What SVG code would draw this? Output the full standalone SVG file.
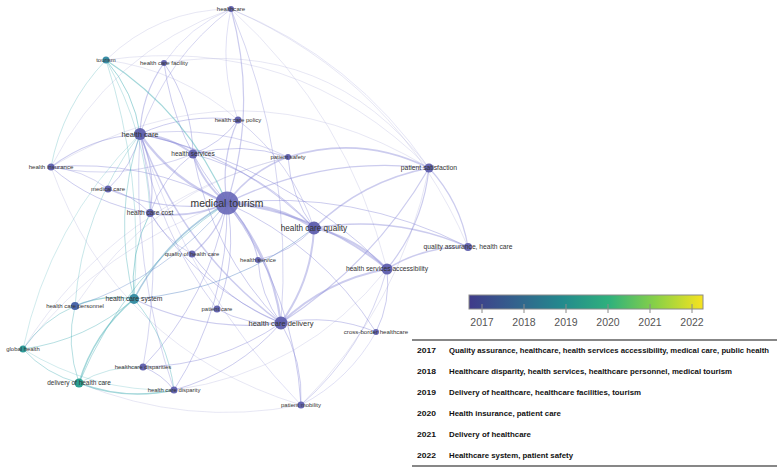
<svg xmlns="http://www.w3.org/2000/svg" width="782" height="473" viewBox="0 0 782 473">
<style>
.e{fill:none;stroke:#8585d6;stroke-opacity:.42;stroke-linecap:round}
.t{fill:none;stroke:#48b0b6;stroke-opacity:.5;stroke-linecap:round}
.f{fill:none;stroke:#b4b4de;stroke-opacity:.55;stroke-width:.6}
.np{fill:#5a5aaa;fill-opacity:.92}
.lbl{font-family:"Liberation Sans",Arial,sans-serif;fill:#333;text-anchor:middle}
.tick{font-family:"Liberation Sans",Arial,sans-serif;fill:#555;font-size:10.5px;text-anchor:middle}
.yr{font-family:"Liberation Sans",Arial,sans-serif;font-weight:bold;font-size:8px;fill:#111}
.row{font-family:"Liberation Sans",Arial,sans-serif;font-weight:bold;font-size:7.2px;fill:#111}
</style>
<defs>
<linearGradient id="vir" x1="0" y1="0" x2="1" y2="0">
<stop offset="0" stop-color="#3f3a8a"/>
<stop offset="0.2" stop-color="#33628d"/>
<stop offset="0.4" stop-color="#238a8d"/>
<stop offset="0.6" stop-color="#2fb17c"/>
<stop offset="0.8" stop-color="#8ad146"/>
<stop offset="1" stop-color="#f7e31f"/>
</linearGradient>
</defs>
<rect width="782" height="473" fill="#fff"/>
<g id="edges">
<path class="f" d="M51 167Q240.3 54.1 429 168"/>
<path class="f" d="M164 63Q328 36 429 168"/>
<path class="f" d="M106 60Q181 70.2 238 120"/>
<path class="f" d="M231 9Q397.1 80.6 468 247"/>
<path class="f" d="M231 9Q348 115.6 387 269"/>
<path class="f" d="M51 167Q116.5 348.5 301 405"/>
<path class="f" d="M23 349Q117.1 200 288 157"/>
<path class="f" d="M231 9Q109.4 52 51 167"/>
<path class="f" d="M301 405Q400.6 305.7 429 168"/>
<path class="f" d="M174 390Q304.7 372.1 387 269"/>
<path class="f" d="M23 349Q103.1 245.4 227 203"/>
<path class="f" d="M79 383Q186.7 427.3 301 405"/>
<path class="f" d="M75 306Q151.7 188.9 288 157"/>
<path class="f" d="M106 60Q294.5 33.3 429 168"/>
<path class="f" d="M231 9Q158.3 9.5 106 60"/>
<path class="e" d="M227 203Q173.2 181.6 140 134" stroke-width="2.2"/>
<path class="e" d="M227 203Q202.7 183.6 193 154" stroke-width="2"/>
<path class="e" d="M227 203Q274.3 202.5 314 228" stroke-width="2.5"/>
<path class="e" d="M227 203Q272 254.9 281 323" stroke-width="2.2"/>
<path class="e" d="M227 203Q190 219.6 150 213" stroke-width="1.8"/>
<path class="e" d="M227 203Q250.6 170.9 288 157" stroke-width="1.5"/>
<path class="e" d="M227 203Q220 159.9 238 120" stroke-width="1.2"/>
<path class="e" d="M227 203Q174.5 142.5 164 63" stroke-width="1"/>
<path class="e" d="M227 203Q258.1 106.6 231 9" stroke-width="1.2"/>
<path class="e" d="M227 203Q322.8 155.2 429 168" stroke-width="1.2"/>
<path class="e" d="M227 203Q354.1 188.9 468 247" stroke-width="1"/>
<path class="e" d="M227 203Q316.9 212 387 269" stroke-width="1.8"/>
<path class="e" d="M227 203Q217.2 233.8 192 254" stroke-width="1.2"/>
<path class="e" d="M227 203Q251.1 226.9 258 260" stroke-width="1.2"/>
<path class="e" d="M227 203Q237.9 257.5 217 309" stroke-width="1"/>
<path class="e" d="M227 203Q165.4 213.9 108 189" stroke-width="1.2"/>
<path class="e" d="M227 203Q144.4 158.6 51 167" stroke-width="1"/>
<path class="e" d="M227 203Q294.3 292.9 301 405" stroke-width="1"/>
<path class="e" d="M227 203Q320.9 245.2 376 332" stroke-width="1"/>
<path class="e" d="M227 203Q209.6 297.6 143 367" stroke-width="1"/>
<path class="e" d="M227 203Q228.6 304.5 174 390" stroke-width="1"/>
<path class="e" d="M314 228Q356.7 237.6 387 269" stroke-width="2"/>
<path class="e" d="M314 228Q311.8 280.5 281 323" stroke-width="2"/>
<path class="e" d="M314 228Q362.5 180.8 429 168" stroke-width="1.5"/>
<path class="e" d="M314 228Q393.9 214.4 468 247" stroke-width="1.5"/>
<path class="e" d="M314 228Q290.4 196.4 288 157" stroke-width="1"/>
<path class="e" d="M314 228Q241.1 154.9 140 134" stroke-width="1.2"/>
<path class="e" d="M314 228Q264.6 172.9 193 154" stroke-width="1"/>
<path class="e" d="M314 228Q292.2 162.6 238 120" stroke-width=".8"/>
<path class="e" d="M314 228Q290.8 252.4 258 260" stroke-width="1"/>
<path class="e" d="M281 323Q325.9 280.1 387 269" stroke-width="1.8"/>
<path class="e" d="M281 323Q260 295 258 260" stroke-width="1"/>
<path class="e" d="M281 323Q246.9 325.6 217 309" stroke-width="1"/>
<path class="e" d="M281 323Q303.3 361 301 405" stroke-width="1"/>
<path class="e" d="M281 323Q329.9 313.3 376 332" stroke-width="1"/>
<path class="e" d="M281 323Q182.2 249.7 140 134" stroke-width="1.5"/>
<path class="e" d="M281 323Q199 287.7 150 213" stroke-width="1"/>
<path class="e" d="M281 323Q226.2 301.9 192 254" stroke-width="1"/>
<path class="e" d="M281 323Q218.6 365.7 143 367" stroke-width="1"/>
<path class="e" d="M281 323Q237.6 372.6 174 390" stroke-width="1"/>
<path class="e" d="M281 323Q373.6 263.3 429 168" stroke-width="1.2"/>
<path class="e" d="M281 323Q211.7 251.7 193 154" stroke-width="1"/>
<path class="e" d="M288 157Q360.7 134.3 429 168" stroke-width="1.8"/>
<path class="e" d="M429 168Q423.2 224.8 387 269" stroke-width="1.2"/>
<path class="e" d="M429 168Q460.4 201.7 468 247" stroke-width="1.2"/>
<path class="e" d="M387 269Q424.2 245.9 468 247" stroke-width="1.5"/>
<path class="e" d="M387 269Q391 302.2 376 332" stroke-width="1"/>
<path class="e" d="M387 269Q283.8 164.5 140 134" stroke-width="1"/>
<path class="e" d="M387 269Q364.4 349.9 301 405" stroke-width=".8"/>
<path class="e" d="M140 134Q169.5 136 193 154" stroke-width="1.8"/>
<path class="e" d="M140 134Q141.4 94.9 164 63" stroke-width="1.2"/>
<path class="e" d="M140 134Q166.8 57.9 231 9" stroke-width=".8"/>
<path class="e" d="M140 134Q90.5 137.2 51 167" stroke-width="1.2"/>
<path class="e" d="M140 134Q132.3 166.3 108 189" stroke-width="1"/>
<path class="e" d="M140 134Q156.9 172 150 213" stroke-width="1.2"/>
<path class="e" d="M140 134Q186.9 112.3 238 120" stroke-width="1"/>
<path class="e" d="M164 63Q192.2 104.2 193 154" stroke-width="1"/>
<path class="e" d="M164 63Q189.4 26 231 9" stroke-width=".6"/>
<path class="e" d="M238 120Q220.6 143.8 193 154" stroke-width="1"/>
<path class="e" d="M238 120Q217.9 65.6 231 9" stroke-width=".6"/>
<path class="e" d="M231 9Q293.7 160 281 323" stroke-width=".8"/>
<path class="e" d="M231 9Q353.9 58.8 429 168" stroke-width=".5"/>
<path class="e" d="M51 167Q93.6 204.9 150 213" stroke-width="1"/>
<path class="e" d="M51 167Q82.8 169.5 108 189" stroke-width=".8"/>
<path class="e" d="M51 167Q124 181.8 193 154" stroke-width=".8"/>
<path class="e" d="M108 189Q132.6 194.7 150 213" stroke-width="1"/>
<path class="e" d="M150 213Q162.7 177 193 154" stroke-width="1"/>
<path class="e" d="M192 254Q164.9 239.8 150 213" stroke-width=".8"/>
<path class="e" d="M143 367Q161.9 373.9 174 390" stroke-width="1"/>
<path class="e" d="M143 367Q164.8 250.2 140 134" stroke-width=".8"/>
<path class="e" d="M174 390Q131.4 265.4 140 134" stroke-width=".8"/>
<path class="e" d="M288 157Q241 141.3 193 154" stroke-width="1"/>
<path class="e" d="M288 157Q217.5 123.3 140 134" stroke-width=".8"/>
<path class="e" d="M217 309Q157.5 230.7 140 134" stroke-width=".8"/>
<path class="e" d="M134 299Q203.9 333.1 281 323" stroke-width="1.2"/>
<path class="e" d="M301 405Q349.5 379.8 376 332" stroke-width=".6"/>
<path class="e" d="M301 405Q188 288.8 140 134" stroke-width=".6"/>
<path class="t" d="M106 60Q134.1 91.9 140 134" stroke-width="1"/>
<path class="t" d="M106 60Q188 113.4 227 203" stroke-width="1.2"/>
<path class="t" d="M106 60Q62.5 105.3 51 167" stroke-width=".6"/>
<path class="t" d="M106 60Q143.9 176.7 134 299" stroke-width=".6"/>
<path class="t" d="M106 60Q146.4 131.2 150 213" stroke-width=".6"/>
<path class="t" d="M23 349Q42.6 319.7 75 306" stroke-width=".8"/>
<path class="t" d="M23 349Q45.9 374.4 79 383" stroke-width=".8"/>
<path class="t" d="M23 349Q86 340.7 134 299" stroke-width=".8"/>
<path class="t" d="M23 349Q49.3 224 140 134" stroke-width=".5"/>
<path class="t" d="M79 383Q93.9 332.8 134 299" stroke-width="1.6"/>
<path class="t" d="M79 383Q125.5 400.8 174 390" stroke-width="1.5"/>
<path class="t" d="M79 383Q65.5 343.9 75 306" stroke-width=".8"/>
<path class="t" d="M79 383Q126 270.8 227 203" stroke-width=".8"/>
<path class="t" d="M79 383Q108.6 365.4 143 367" stroke-width=".6"/>
<path class="t" d="M134 299Q166.1 237 227 203" stroke-width="1.5" style="stroke:#5a9ac4"/>
<path class="t" d="M134 299Q103.5 293.7 75 306" stroke-width="1.2"/>
<path class="t" d="M134 299Q234.7 290.5 314 228" stroke-width="1" style="stroke:#6a94cc"/>
<path class="t" d="M134 299Q129.1 253.6 150 213" stroke-width="1"/>
<path class="t" d="M134 299Q112.3 215.6 140 134" stroke-width=".8"/>
<path class="t" d="M134 299Q167.7 338.5 174 390" stroke-width=".8"/>
<path class="t" d="M75 306Q166.5 277.3 227 203" stroke-width=".8" style="stroke:#6a8fcc"/>
<path class="t" d="M75 306Q81.7 210.3 140 134" stroke-width=".6"/>
<path class="t" d="M23 349Q92.4 392.2 174 390" stroke-width=".5"/>
</g>
<g id="n-healthcare"><circle class="np" cx="231" cy="9" r="3"/><text class="lbl" x="231" y="11.2" font-size="6.1">healthcare</text></g>
<g id="n-tourism"><circle cx="106" cy="60" r="3.5" fill="#3a8fa8"/><text class="lbl" x="106" y="62.2" font-size="6">tourism</text></g>
<g id="n-health-care-facility"><circle class="np" cx="164" cy="63" r="3"/><text class="lbl" x="164" y="65.2" font-size="6">health care facility</text></g>
<g id="n-health-care-policy"><circle class="np" cx="238" cy="120" r="3.5"/><text class="lbl" x="238" y="122.2" font-size="6">health care policy</text></g>
<g id="n-health-care"><circle class="np" cx="140" cy="134" r="6"/><text class="lbl" x="140" y="136.7" font-size="7.5">health care</text></g>
<g id="n-health-services"><circle class="np" cx="193" cy="154" r="4.5"/><text class="lbl" x="193" y="156.3" font-size="6.5">health services</text></g>
<g id="n-patient-safety"><circle class="np" cx="288" cy="157" r="3"/><text class="lbl" x="288" y="159.2" font-size="5.9">patient safety</text></g>
<g id="n-patient-satisfaction"><circle class="np" cx="429" cy="168" r="4.5"/><text class="lbl" x="429" y="170.4" font-size="6.8">patient satisfaction</text></g>
<g id="n-health-insurance"><circle class="np" cx="51" cy="167" r="3.5"/><text class="lbl" x="51" y="169.2" font-size="6.1">health insurance</text></g>
<g id="n-medical-care"><circle class="np" cx="108" cy="189" r="3.5"/><text class="lbl" x="108" y="191.2" font-size="6">medical care</text></g>
<g id="n-medical-tourism"><circle cx="227" cy="203" r="11.5" fill="#6868b8" fill-opacity=".9"/><text class="lbl" x="227" y="206.8" font-size="10.4">medical tourism</text></g>
<g id="n-health-care-cost"><circle class="np" cx="150" cy="213" r="4"/><text class="lbl" x="150" y="215.3" font-size="6.6">health care cost</text></g>
<g id="n-health-care-quality"><circle class="np" cx="314" cy="228" r="6.5"/><text class="lbl" x="314" y="231" font-size="8.2">health care quality</text></g>
<g id="n-quality-assurance"><circle class="np" cx="468" cy="247" r="4"/><text class="lbl" x="468" y="249.4" font-size="6.7">quality assurance, health care</text></g>
<g id="n-quality-of-health-care"><circle class="np" cx="192" cy="254" r="3.5"/><text class="lbl" x="192" y="256.2" font-size="5.9">quality of health care</text></g>
<g id="n-health-service"><circle class="np" cx="258" cy="260" r="3"/><text class="lbl" x="258" y="262.2" font-size="5.8">health service</text></g>
<g id="n-health-services-accessibility"><circle class="np" cx="387" cy="269" r="5.5"/><text class="lbl" x="387" y="271.4" font-size="6.7">health services accessibility</text></g>
<g id="n-health-care-system"><circle cx="134" cy="299" r="5" fill="#3a8fa5"/><text class="lbl" x="134" y="301.4" font-size="6.8">health care system</text></g>
<g id="n-health-care-personnel"><circle cx="75" cy="306" r="4" fill="#4a66aa"/><text class="lbl" x="75" y="308.2" font-size="6">health care personnel</text></g>
<g id="n-patient-care"><circle class="np" cx="217" cy="309" r="3.5"/><text class="lbl" x="217" y="311.2" font-size="5.9">patient care</text></g>
<g id="n-health-care-delivery"><circle class="np" cx="281" cy="323" r="6.5"/><text class="lbl" x="281" y="325.7" font-size="7.5">health care delivery</text></g>
<g id="n-cross-border-healthcare"><circle class="np" cx="376" cy="332" r="3"/><text class="lbl" x="376" y="334.2" font-size="6.1">cross-border healthcare</text></g>
<g id="n-global-health"><circle cx="23" cy="349" r="3.5" fill="#2e9a98"/><text class="lbl" x="23" y="351.2" font-size="5.9">global health</text></g>
<g id="n-healthcare-disparities"><circle class="np" cx="143" cy="367" r="3.5"/><text class="lbl" x="143" y="369.2" font-size="6">healthcare disparities</text></g>
<g id="n-delivery-of-health-care"><circle cx="79" cy="383" r="4.5" fill="#2aa092"/><text class="lbl" x="79" y="385.3" font-size="6.5">delivery of health care</text></g>
<g id="n-health-care-disparity"><circle class="np" cx="174" cy="390" r="3.5"/><text class="lbl" x="174" y="392.2" font-size="5.9">health care disparity</text></g>
<g id="n-patient-mobility"><circle class="np" cx="301" cy="405" r="3.5"/><text class="lbl" x="301" y="407.2" font-size="6">patient mobility</text></g>
<g id="legend">
<rect x="469" y="295" width="234" height="14" fill="url(#vir)" stroke="#8a8a8a" stroke-width="1"/>
<g stroke="#8a8a8a" stroke-width="1">
<line x1="482" y1="304" x2="482" y2="313"/>
<line x1="524" y1="304" x2="524" y2="313"/>
<line x1="566" y1="304" x2="566" y2="313"/>
<line x1="608" y1="304" x2="608" y2="313"/>
<line x1="650" y1="304" x2="650" y2="313"/>
<line x1="692" y1="304" x2="692" y2="313"/>
</g>
<text class="tick" x="482" y="326">2017</text>
<text class="tick" x="524" y="326">2018</text>
<text class="tick" x="566" y="326">2019</text>
<text class="tick" x="608" y="326">2020</text>
<text class="tick" x="650" y="326">2021</text>
<text class="tick" x="692" y="326">2022</text>
</g>
<g id="table">
<line x1="412" y1="340" x2="777" y2="340" stroke="#111" stroke-width="1.2"/>
<line x1="412" y1="466" x2="777" y2="466" stroke="#111" stroke-width="1.2"/>
<text class="yr" x="417" y="353" textLength="19" lengthAdjust="spacingAndGlyphs">2017</text>
<text class="row" x="449" y="353" textLength="320" lengthAdjust="spacingAndGlyphs">Quality assurance, healthcare, health services accessibility, medical care, public health</text>
<text class="yr" x="417" y="374" textLength="19" lengthAdjust="spacingAndGlyphs">2018</text>
<text class="row" x="449" y="374" textLength="283" lengthAdjust="spacingAndGlyphs">Healthcare disparity, health services, healthcare personnel, medical tourism</text>
<text class="yr" x="417" y="395" textLength="19" lengthAdjust="spacingAndGlyphs">2019</text>
<text class="row" x="449" y="395" textLength="192" lengthAdjust="spacingAndGlyphs">Delivery of healthcare, healthcare facilities, tourism</text>
<text class="yr" x="417" y="416" textLength="19" lengthAdjust="spacingAndGlyphs">2020</text>
<text class="row" x="449" y="416" textLength="112" lengthAdjust="spacingAndGlyphs">Health insurance, patient care</text>
<text class="yr" x="417" y="437" textLength="19" lengthAdjust="spacingAndGlyphs">2021</text>
<text class="row" x="449" y="437" textLength="82" lengthAdjust="spacingAndGlyphs">Delivery of healthcare</text>
<text class="yr" x="417" y="458" textLength="19" lengthAdjust="spacingAndGlyphs">2022</text>
<text class="row" x="449" y="458" textLength="124" lengthAdjust="spacingAndGlyphs">Healthcare system, patient safety</text>
</g>
</svg>
